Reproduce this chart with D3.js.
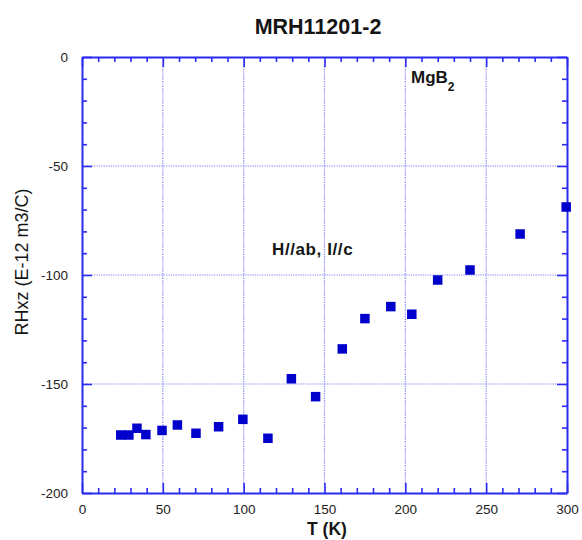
<!DOCTYPE html>
<html>
<head>
<meta charset="utf-8">
<script src="https://cdn.jsdelivr.net/npm/d3@7"></script>
<style>
  html, body { margin: 0; padding: 0; background: #fff; }
  svg { display: block; font-family: "Liberation Sans", Arial, Helvetica, sans-serif; }
</style>
</head>
<body>
<svg id="chart" width="582" height="540"></svg>
<script>
// Temperature (K) and Hall coefficient RHxz (E-12 m3/C)
const temperature = [24, 29, 34, 39.5, 49.5, 59, 70.5, 84.5, 99.5, 115, 129.5, 144.5, 161, 175, 191, 204, 220, 240, 271, 299.5];
const rhxz = [-173.4, -173.4, -170.3, -173.2, -171.3, -168.8, -172.6, -169.6, -166.2, -174.9, -147.6, -155.8, -133.9, -120, -114.5, -118, -102.3, -97.7, -81.2, -68.8];
const xTicks = [0, 50, 100, 150, 200, 250, 300];
const yTicks = [0, -50, -100, -150, -200];

const svg = d3.select("#chart");
const plotLeft = 82, plotRight = 567, plotTop = 57, plotBottom = 493;
const axisColor = "#2b2bf0";
const majorLen = 10, minorLen = 5;

const x = d3.scaleLinear().domain([0, 300]).range([plotLeft, plotRight]);
const y = d3.scaleLinear().domain([-200, 0]).range([plotBottom, plotTop]);

// dotted grid at major ticks
const grid = svg.append("g").attr("stroke", "#7f7fff").attr("stroke-width", 1.2).attr("stroke-dasharray", "1.2,1.2");
xTicks.slice(1, -1).forEach(t => grid.append("line").attr("x1", x(t)).attr("x2", x(t)).attr("y1", plotTop).attr("y2", plotBottom));
yTicks.slice(1, -1).forEach(t => grid.append("line").attr("x1", plotLeft).attr("x2", plotRight).attr("y1", y(t)).attr("y2", y(t)));

// axes with inward ticks on all four sides
const minorX = d3.range(0, 301, 10), minorY = d3.range(-200, 1, 10);
function styleAxis(g) {
  g.select(".domain").attr("stroke", axisColor).attr("stroke-width", 2);
  g.selectAll(".tick line").attr("stroke", axisColor).attr("stroke-width", 1.6);
}
const bx = svg.append("g").attr("transform", `translate(0,${plotBottom})`)
  .call(d3.axisBottom(x).tickValues(minorX).tickSize(-minorLen).tickSizeOuter(0).tickFormat(d => xTicks.includes(d) ? d : ""));
bx.selectAll(".tick line").attr("y2", d => xTicks.includes(d) ? -majorLen : -minorLen);
bx.selectAll(".tick text").attr("y", 11).attr("font-size", 13.5).attr("fill", "#222");
styleAxis(bx);

const tx = svg.append("g").attr("transform", `translate(0,${plotTop})`)
  .call(d3.axisTop(x).tickValues(minorX).tickSize(-minorLen).tickSizeOuter(0).tickFormat(""));
tx.selectAll(".tick line").attr("y2", d => xTicks.includes(d) ? majorLen : minorLen);
styleAxis(tx);

const ly = svg.append("g").attr("transform", `translate(${plotLeft},0)`)
  .call(d3.axisLeft(y).tickValues(minorY).tickSize(-minorLen).tickSizeOuter(0).tickFormat(d => yTicks.includes(d) ? d : ""));
ly.selectAll(".tick line").attr("x2", d => yTicks.includes(d) ? majorLen : minorLen);
ly.selectAll(".tick text").attr("x", -14).attr("font-size", 13.5).attr("fill", "#222");
styleAxis(ly);

const ry = svg.append("g").attr("transform", `translate(${plotRight},0)`)
  .call(d3.axisRight(y).tickValues(minorY).tickSize(-minorLen).tickSizeOuter(0).tickFormat(""));
ry.selectAll(".tick line").attr("x2", d => yTicks.includes(d) ? -majorLen : -minorLen);
styleAxis(ry);

// data markers
const s = 9.5;
svg.append("g").selectAll("rect").data(temperature).join("rect")
  .attr("x", d => x(d) - s / 2)
  .attr("y", (d, i) => y(rhxz[i]) - s / 2)
  .attr("width", s).attr("height", s)
  .attr("fill", "#0000cc");

// titles and labels
svg.append("text").attr("x", 318).attr("y", 34).attr("text-anchor", "middle")
  .attr("font-size", 21.5).attr("font-weight", "bold").attr("fill", "#151515").text("MRH11201-2");
svg.append("text").attr("x", 327).attr("y", 535).attr("text-anchor", "middle")
  .attr("font-size", 17.5).attr("font-weight", "bold").attr("fill", "#151515").text("T (K)");
svg.append("text").attr("transform", "translate(28,262) rotate(-90)").attr("text-anchor", "middle")
  .attr("font-size", 18).attr("fill", "#151515").text("RHxz (E-12 m3/C)");

const mg = svg.append("text").attr("x", 411).attr("y", 83).attr("font-size", 17).attr("font-weight", "bold").attr("fill", "#151515");
mg.append("tspan").text("MgB");
mg.append("tspan").attr("dy", 8).attr("font-size", 12).text("2");
svg.append("text").attr("x", 272).attr("y", 255).attr("font-size", 17).attr("font-weight", "bold")
  .attr("letter-spacing", 0.6).attr("fill", "#151515")
  .text("H//ab, I//c");
</script>
</body>
</html>
